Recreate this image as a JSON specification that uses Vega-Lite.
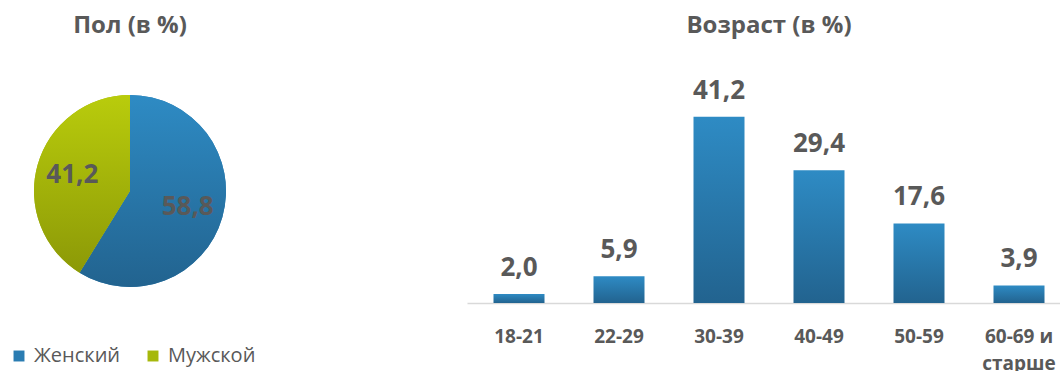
{
  "$schema": "https://vega.github.io/schema/vega-lite/v6.json",
  "padding": {"top": 14, "left": 0, "right": 0, "bottom": 0},
  "background": "white",
  "spacing": 207,
  "config": {
    "view": {"stroke": null},
    "font": "Open Sans",
    "title": {"font": "Open Sans", "fontSize": 24, "fontWeight": "bold", "color": "#595959", "offset": 12}
  },
  "datasets": {
    "sex": [
      {"sex": "Женский", "pct": 58.8, "label": "58,8", "ord": 1},
      {"sex": "Мужской", "pct": 41.2, "label": "41,2", "ord": 2}
    ],
    "age": [
      {"age": "18-21", "pct": 2.0, "label": "2,0"},
      {"age": "22-29", "pct": 5.9, "label": "5,9"},
      {"age": "30-39", "pct": 41.2, "label": "41,2"},
      {"age": "40-49", "pct": 29.4, "label": "29,4"},
      {"age": "50-59", "pct": 17.6, "label": "17,6"},
      {"age": "60-69 и старше", "pct": 3.9, "label": "3,9"}
    ]
  },
  "hconcat": [
    {
      "title": "Пол (в %)",
      "width": 260,
      "height": 282,
      "data": {"name": "sex"},
      "encoding": {
        "theta": {"field": "pct", "type": "quantitative", "stack": true},
        "order": {"field": "ord", "type": "quantitative"}
      },
      "layer": [
        {
          "mark": {"type": "arc", "outerRadius": 96},
          "encoding": {
            "color": {
              "field": "sex", "type": "nominal",
              "scale": {"domain": ["Женский", "Мужской"], "range": ["#2A7CB2", "#A6B80B"]},
              "legend": {
                "title": null, "orient": "none", "legendX": 9, "legendY": 296,
                "direction": "horizontal", "symbolType": "square", "symbolSize": 120,
                "symbolStrokeWidth": 0,
                "labelFont": "Open Sans", "labelFontSize": 20, "labelColor": "#595959",
                "labelOffset": 5, "columnPadding": 22
              }
            }
          }
        },
        {
          "mark": {"type": "arc", "outerRadius": 96},
          "encoding": {
            "fill": {
              "condition": {
                "test": "datum.sex === 'Женский'",
                "value": {"gradient": "linear", "x1": 0, "y1": 0, "x2": 0, "y2": 1,
                  "stops": [{"offset": 0, "color": "#2E8BC4"}, {"offset": 1, "color": "#22638F"}]}
              },
              "value": {"gradient": "linear", "x1": 0, "y1": 0, "x2": 0, "y2": 1,
                "stops": [{"offset": 0, "color": "#B9CC0C"}, {"offset": 1, "color": "#8C9907"}]}
            }
          }
        },
        {
          "mark": {"type": "text", "radius": 60, "font": "Open Sans", "fontSize": 26, "fontWeight": "bold", "color": "#595959", "baseline": "middle"},
          "encoding": {"text": {"field": "label"}}
        }
      ]
    },
    {
      "title": "Возраст (в %)",
      "width": 604,
      "height": 253,
      "data": {"name": "age"},
      "encoding": {
        "x": {
          "field": "age", "type": "nominal", "sort": null,
          "scale": {"paddingInner": 0.49, "paddingOuter": 0.265},
          "axis": {
            "title": null, "ticks": false, "labelAngle": 0,
            "domainColor": "#D9D9D9", "domainWidth": 1.5,
            "labelFont": "Open Sans", "labelFontSize": 19, "labelFontWeight": "bold",
            "labelColor": "#595959", "labelPadding": 24, "labelLineHeight": 27,
            "labelExpr": "datum.label == '60-69 и старше' ? ['60-69 и', 'старше'] : datum.label"
          }
        },
        "y": {
          "field": "pct", "type": "quantitative",
          "scale": {"domain": [0, 56], "nice": false},
          "axis": null
        }
      },
      "layer": [
        {
          "mark": {
            "type": "bar",
            "color": {"gradient": "linear", "x1": 0, "y1": 0, "x2": 0, "y2": 1,
              "stops": [{"offset": 0, "color": "#2E8BC4"}, {"offset": 1, "color": "#22638F"}]}
          }
        },
        {
          "mark": {"type": "text", "font": "Open Sans", "fontSize": 26, "fontWeight": "bold", "color": "#595959", "baseline": "alphabetic", "dy": -18},
          "encoding": {"text": {"field": "label"}}
        }
      ]
    }
  ]
}
